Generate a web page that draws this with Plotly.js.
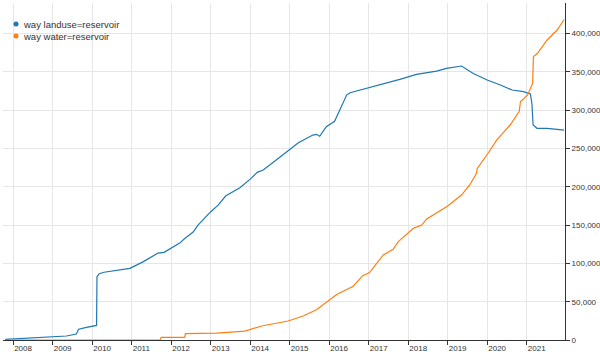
<!DOCTYPE html>
<html>
<head>
<meta charset="utf-8">
<script src="https://cdn.plot.ly/plotly-3.0.1.min.js"></script>
<style>html,body{margin:0;padding:0;background:#fff;}#chart{width:600px;height:358px;}</style>
</head>
<body>
<div id="chart"></div>
<script>
const seriesNames = ["way landuse=reservoir", "way water=reservoir"];
const seriesColors = ["#1f77b4", "#ff7f0e"];

const landuseDates = ["2007-10-20","2008-01-01","2008-07-01","2009-01-01","2009-05-08","2009-08-07","2009-08-20","2009-08-28","2009-11-10","2010-02-10","2010-02-14","2010-03-07","2010-04-20","2010-08-07","2010-12-15","2011-04-15","2011-07-01","2011-09-01","2011-10-27","2012-01-01","2012-03-20","2012-05-08","2012-07-22","2012-09-05","2013-01-01","2013-03-10","2013-05-18","2013-09-27","2014-01-01","2014-03-07","2014-05-01","2014-09-16","2015-01-01","2015-03-22","2015-08-03","2015-09-05","2015-10-05","2015-12-05","2016-02-20","2016-04-08","2016-06-10","2016-07-12","2016-12-13","2017-05-15","2017-10-15","2018-03-17","2018-09-20","2018-12-20","2019-05-08","2019-08-25","2020-01-01","2020-05-01","2020-08-18","2020-12-01","2021-02-03","2021-02-17","2021-02-28","2021-04-05","2021-07-08","2021-10-08","2021-12-12"];
const landuseValues = [800,1300,2300,3500,5200,7800,13500,14000,16500,19000,82600,86500,88500,91000,93500,102000,109000,113500,114500,120000,126500,132800,141000,150000,167500,176000,188000,198800,210000,218900,222000,237000,249000,257600,267600,268500,266000,278500,285500,301000,319800,322900,328600,334200,340300,346800,351100,354600,357700,348000,339500,333000,326400,324200,321200,309000,280700,276400,276400,275000,274000];

const waterDates = ["2008-01-01","2011-09-20","2011-10-01","2012-05-05","2012-05-12","2013-02-24","2013-11-14","2014-04-16","2014-12-17","2015-05-05","2015-09-05","2015-10-23","2016-03-10","2016-08-10","2016-09-09","2016-11-06","2017-01-08","2017-05-15","2017-08-14","2017-10-01","2018-02-17","2018-05-05","2018-06-21","2019-01-01","2019-05-08","2019-07-23","2019-09-24","2019-10-01","2020-01-12","2020-03-28","2020-07-31","2020-10-23","2020-11-03","2021-01-08","2021-02-24","2021-03-03","2021-04-08","2021-07-08","2021-10-08","2021-12-12"];
const waterValues = [0,0,3500,3500,8300,9100,11700,18300,24800,31300,39600,44800,59300,70200,75400,84000,88000,111000,118400,128400,145800,150000,158000,175000,189300,202400,217600,224000,244500,261000,280700,298500,311000,320000,335000,370000,374000,391700,404700,418500];

const yTickValues = [0,50000,100000,150000,200000,250000,300000,350000,400000];

const fontFamily = "Liberation Sans, Arial, sans-serif";

const traces = [
  {x: landuseDates, y: landuseValues, type: "scatter", mode: "lines", name: seriesNames[0],
   line: {color: seriesColors[0], width: 1.2}, hoverinfo: "x+y"},
  {x: waterDates, y: waterValues, type: "scatter", mode: "lines", name: seriesNames[1],
   line: {color: seriesColors[1], width: 1.2}, hoverinfo: "x+y"}
];

// custom compact legend (plot area: 562 x 337 px, origin at (3,340))
const plotW = 562, plotH = 337, plotL = 3, plotB = 340;
const px = v => (v - plotL) / plotW;
const py = v => (plotB - v) / plotH;
const legendRows = [24, 36];
const shapes = [], annotations = [];
seriesNames.forEach((name, i) => {
  const cy = legendRows[i];
  shapes.push({type: "circle", xref: "paper", yref: "paper",
    x0: px(13.5), x1: px(18.5), y0: py(cy + 2.5), y1: py(cy - 2.5),
    fillcolor: seriesColors[i], line: {width: 0}});
  annotations.push({xref: "paper", yref: "paper", x: px(21), y: py(cy),
    xanchor: "left", yanchor: "middle", showarrow: false, text: name,
    font: {size: 9.5, color: "#333", family: fontFamily}});
});

const layout = {
  width: 600, height: 358,
  margin: {l: 3, r: 35, t: 3, b: 18, pad: 0},
  paper_bgcolor: "#fff", plot_bgcolor: "#fff",
  font: {family: fontFamily, size: 8, color: "#333"},
  showlegend: false,
  shapes: shapes,
  annotations: annotations,
  xaxis: {
    type: "date",
    range: ["2007-09-29", "2021-12-20"],
    tick0: "2008-01-01", dtick: "M12", tickformat: "%Y",
    ticklabelposition: "outside right",
    ticks: "outside", ticklen: 4, tickcolor: "#333",
    showgrid: true, gridcolor: "#e6e6e6", gridwidth: 1,
    showline: true, linecolor: "#333", linewidth: 1,
    zeroline: false,
    tickfont: {size: 8, color: "#333"}
  },
  yaxis: {
    side: "right",
    range: [0, 440000],
    tickvals: yTickValues,
    tickformat: ",d",
    ticks: "outside", ticklen: 4, tickcolor: "#333",
    showgrid: true, gridcolor: "#e6e6e6", gridwidth: 1,
    showline: true, linecolor: "#333", linewidth: 1,
    zeroline: false,
    tickfont: {size: 8, color: "#333"}
  }
};

Plotly.newPlot("chart", traces, layout, {displayModeBar: false, staticPlot: true});
</script>
</body>
</html>
